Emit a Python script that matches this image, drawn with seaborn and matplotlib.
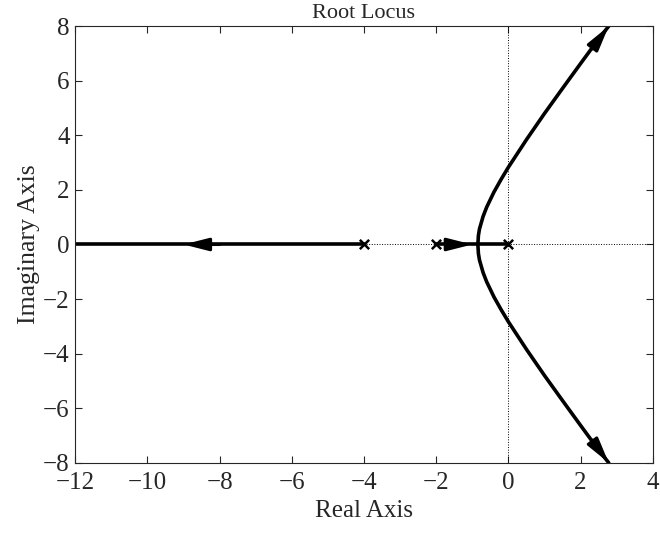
import numpy as np
import pandas as pd
import matplotlib
matplotlib.use("Agg")
import matplotlib.pyplot as plt
import seaborn as sns

# ~~~~~~~~~~~~~~~~~~~~~~~~~~~~~~~~~~~~~~~~~~~~~~~~~~~~~~~~~~~~~~~~~~~~~~~~~~~~~~~~~~~~
# Root locus values (poles at 0, -2, -4)
# ~~~~~~~~~~~~~~~~~~~~~~~~~~~~~~~~~~~~~~~~~~~~~~~~~~~~~~~~~~~~~~~~~~~~~~~~~~~~~~~~~~~~
poles_re = [0.0, -2.0, -4.0]
poles_im = [0.0, 0.0, 0.0]

# complex branch (upper half) and lower half
branch_re = [-0.845, -0.83, -0.8, -0.7, -0.6, -0.4, -0.2, 0.0, 0.5, 1.0, 1.5, 2.0, 2.5, 2.78]
branch_im = [0.0, 0.33, 0.57, 1.03, 1.37, 1.92, 2.39, 2.83, 3.84, 4.80, 5.72, 6.63, 7.53, 8.0]
lower_re = [2.78, 2.5, 2.0, 1.5, 1.0, 0.5, 0.0, -0.2, -0.4, -0.6, -0.7, -0.8, -0.83, -0.845]
lower_im = [-8.0, -7.53, -6.63, -5.72, -4.80, -3.84, -2.83, -2.39, -1.92, -1.37, -1.03, -0.57, -0.33, 0.0]

# real-axis segments
left_re = [-4.0, -12.0]
mid_re = [-2.0, -0.845]
right_re = [0.0, -0.845]

# arrows: (tail, head)
arrows = [((-8.0, 0.0), (-9.0, 0.0)),
          ((-1.75, 0.0), (-1.0, 0.0)),
          ((2.3, 7.15), (2.78, 8.0)),
          ((2.3, -7.15), (2.78, -8.0))]

xticks = [-12, -10, -8, -6, -4, -2, 0, 2, 4]
yticks = [-8, -6, -4, -2, 0, 2, 4, 6, 8]

sns.set_style("ticks")
plt.rcParams['font.family'] = ['Liberation Serif', 'DejaVu Serif']
plt.rcParams['xtick.direction'] = 'in'
plt.rcParams['ytick.direction'] = 'in'

fig = plt.figure(figsize=(6.6, 5.35), dpi=100)
ax = fig.add_axes([0.114, 0.135, 0.875, 0.816])

ax.axhline(0, color='k', lw=0.7, ls=':', zorder=1)
ax.axvline(0, color='k', lw=0.7, ls=':', zorder=1)

up_df = pd.DataFrame({"re": branch_re, "im": branch_im})
lo_df = pd.DataFrame({"re": lower_re, "im": lower_im})
sns.lineplot(data=up_df, x="re", y="im", sort=False, color='k', lw=2.6, ax=ax)
sns.lineplot(data=lo_df, x="re", y="im", sort=False, color='k', lw=2.6, ax=ax)
for seg in (left_re, mid_re, right_re):
    sns.lineplot(x=seg, y=[0.0, 0.0], sort=False, color='k', lw=2.6, ax=ax)

for tail, head in arrows:
    ax.annotate("", xy=head, xytext=tail,
                arrowprops=dict(arrowstyle="-|>,head_length=1.5,head_width=0.38",
                                color='k', lw=2.2, shrinkA=0, shrinkB=0))

sns.scatterplot(x=poles_re, y=poles_im, marker='x', color='k', s=45,
                linewidth=1.8, ax=ax, zorder=5)

ax.set_xlim(-12, 4)
ax.set_ylim(-8, 8)
ax.set_xticks(xticks)
ax.set_yticks(yticks)
ax.set_xticklabels([f"\u2212{abs(t)}" if t < 0 else str(t) for t in xticks])
ax.set_yticklabels([f"\u2212{abs(t)}" if t < 0 else str(t) for t in yticks])
ax.tick_params(top=True, right=True, labelsize=18, length=5, width=0.8)
ax.tick_params(axis='x', pad=7)
ax.tick_params(axis='y', pad=4)
for sp in ax.spines.values():
    sp.set_linewidth(0.8)

ax.set_xlabel("Real Axis", fontsize=18, labelpad=4)
ax.set_ylabel("Imaginary Axis", fontsize=18.5, labelpad=2)
ax.set_title("Root Locus", fontsize=16, pad=6)

fig.savefig("out.png", dpi=100)
